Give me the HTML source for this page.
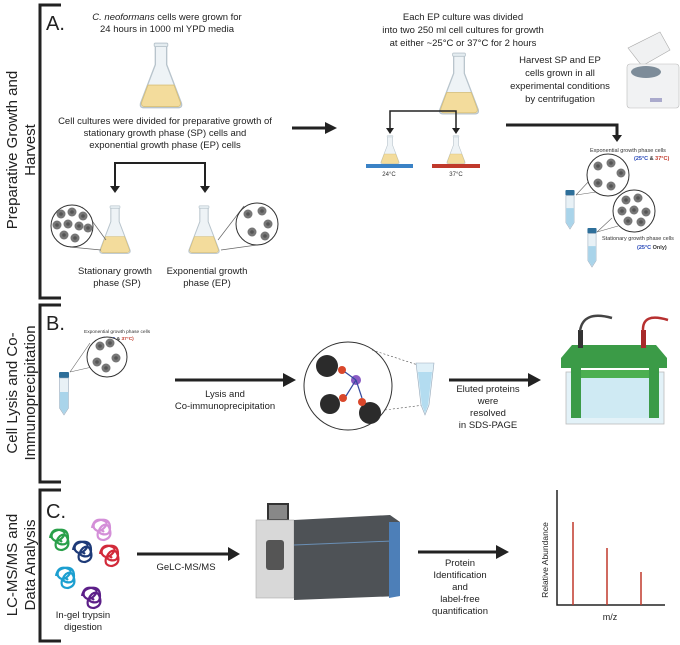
<!DOCTYPE html>
<html><head><meta charset="utf-8"><style>
body{margin:0;background:#fff}
svg{display:block;font-family:"Liberation Sans",sans-serif}
</style></head><body>
<svg width="680" height="645" viewBox="0 0 680 645" xmlns="http://www.w3.org/2000/svg">
<defs>
<symbol id="flask" viewBox="0 0 40 60">
<path d="M15 2 H25 V20 L38 54 Q39 58 35 58 H5 Q1 58 2 54 L15 20 Z" fill="#eef3f6" stroke="#b8c4cc" stroke-width="1.2"/>
<path d="M8.5 38 H31.5 L37 53 Q38 57 34 57 H6 Q2 57 3 53 Z" fill="#f3dc9c" stroke="#d8c07a" stroke-width="0.8"/>
<rect x="14" y="1" width="12" height="3" rx="1" fill="#e4ecf0" stroke="#b8c4cc" stroke-width="0.8"/>
</symbol>
<symbol id="tube" viewBox="0 0 12 44">
<rect x="1" y="0" width="10" height="6" rx="1" fill="#2d6f9a"/>
<path d="M1.5 6 H10.5 V36 L6 43 L1.5 36 Z" fill="#e8f1f6" stroke="#9ab" stroke-width="0.6"/>
<path d="M1.8 20 H10.2 V36 L6 42 L1.8 36 Z" fill="#a9d4ea"/>
</symbol>
<g id="cell"><circle r="4.5" fill="#777"/><circle r="1.8" fill="#555"/></g>
<path id="prot" d="M0 8 q2 -10 10 -8 q8 2 2 8 q-6 6 -10 0 q-2 -6 6 -8 q10 -2 10 8 q0 8 -8 6 q-6 -2 0 -8 q6 -4 8 4 q2 8 -6 10 q-8 0 -6 -8 q2 -4 6 0" fill="none" stroke-width="2.2"/>
</defs>

<g stroke="#222" stroke-width="3" fill="none">
<path d="M61 5 H40 V298 H61"/>
<path d="M61 305 H40 V482 H61"/>
<path d="M61 490 H40 V641 H61"/>
</g>
<g font-size="15" fill="#222" text-anchor="middle">
<text transform="translate(17,150) rotate(-90)">Preparative Growth and</text>
<text transform="translate(35,150) rotate(-90)">Harvest</text>
<text transform="translate(17,393) rotate(-90)">Cell Lysis and Co-</text>
<text transform="translate(35,393) rotate(-90)">Immunoprecipitation</text>
<text transform="translate(17,565) rotate(-90)">LC-MS/MS and</text>
<text transform="translate(35,565) rotate(-90)">Data Analysis</text>
</g>
<g font-size="20" fill="#222"><text x="46" y="30">A.</text><text x="46" y="330">B.</text><text x="46" y="518">C.</text></g>

<g font-size="9.5" fill="#222" text-anchor="middle">
<text x="167" y="20"><tspan font-style="italic">C. neoformans</tspan> cells were grown for</text>
<text x="167" y="32">24 hours in 1000 ml YPD media</text>
<text x="165" y="124">Cell cultures were divided for preparative growth of</text>
<text x="165" y="136">stationary growth phase (SP) cells and</text>
<text x="165" y="148">exponential growth phase (EP) cells</text>
<text x="115" y="274">Stationary growth</text>
<text x="117" y="286">phase (SP)</text>
<text x="207" y="274">Exponential growth</text>
<text x="207" y="286">phase (EP)</text>
</g>
<use href="#flask" x="137" y="42" width="48" height="68"/>
<g stroke="#222" stroke-width="2" fill="none"><path d="M115 188 V163 H205 V188" /></g>
<path d="M110 186 H120 L115 193Z M200 186 H210 L205 193Z" fill="#222"/>
<use href="#flask" x="98" y="205" width="34" height="50"/>
<use href="#flask" x="187" y="205" width="34" height="50"/>
<g stroke="#666" stroke-width="0.7"><line x1="70" y1="247" x2="101" y2="250"/><line x1="82" y1="207" x2="106" y2="240"/><line x1="257" y1="245" x2="221" y2="250"/><line x1="244" y1="206" x2="218" y2="240"/></g>
<circle cx="72" cy="226" r="21" fill="#fff" stroke="#333" stroke-width="1"/>
<circle cx="257" cy="224" r="21" fill="#fff" stroke="#333" stroke-width="1"/>
<g><use href="#cell" x="61" y="214"/><use href="#cell" x="72" y="212"/><use href="#cell" x="83" y="216"/><use href="#cell" x="57" y="225"/><use href="#cell" x="68" y="224"/><use href="#cell" x="79" y="226"/><use href="#cell" x="88" y="228"/><use href="#cell" x="64" y="235"/><use href="#cell" x="75" y="238"/><use href="#cell" x="248" y="214"/><use href="#cell" x="262" y="211"/><use href="#cell" x="268" y="224"/><use href="#cell" x="252" y="232"/><use href="#cell" x="265" y="236"/></g>
<line x1="292" y1="128" x2="327" y2="128" stroke="#222" stroke-width="3"/><path d="M325 122 L337 128 L325 134Z" fill="#222"/>

<g font-size="9.5" fill="#222" text-anchor="middle">
<text x="463" y="20">Each EP culture was divided</text>
<text x="463" y="33">into two 250 ml cell cultures for growth</text>
<text x="463" y="46">at either ~25°C or 37°C for 2 hours</text>
<text x="560" y="63">Harvest SP and EP</text>
<text x="560" y="76">cells grown in all</text>
<text x="560" y="89">experimental conditions</text>
<text x="560" y="102">by centrifugation</text>
</g>
<use href="#flask" x="437" y="52" width="44" height="64"/>
<g stroke="#222" stroke-width="1.5" fill="none"><path d="M390 130 V111 H456 V130"/></g>
<path d="M386 128 H394 L390 134Z M452 128 H460 L456 134Z" fill="#222"/>
<use href="#flask" x="374" y="135" width="32" height="30"/>
<use href="#flask" x="440" y="135" width="32" height="30"/>
<rect x="366" y="164" width="47" height="4" fill="#3a82c6"/>
<rect x="432" y="164" width="48" height="4" fill="#c0392b"/>
<g font-size="6" fill="#333" text-anchor="middle"><text x="389" y="176">24°C</text><text x="456" y="176">37°C</text></g>
<g><path d="M628 48 L660 32 L670 50 L642 66Z" fill="#f0f1f2" stroke="#aaa" stroke-width="0.6"/>
<rect x="627" y="64" width="52" height="44" rx="3" fill="#f1f2f3" stroke="#bbb" stroke-width="0.6"/>
<ellipse cx="646" cy="72" rx="15" ry="6" fill="#7d8c99"/>
<rect x="650" y="98" width="12" height="4" fill="#aac"/></g>
<path d="M506 125 H617 V136" stroke="#222" stroke-width="3" fill="none"/><path d="M612 135 H622 L617 142Z" fill="#222"/>
<g font-size="5.5" fill="#333"><text x="590" y="152">Exponential growth phase cells</text>
<text x="634" y="160" font-weight="bold"><tspan fill="#2647b8">(25°C</tspan> &amp; <tspan fill="#c0392b">37°C)</tspan></text>
<text x="602" y="240">Stationary growth phase cells</text>
<text x="637" y="249" font-weight="bold"><tspan fill="#2647b8">(25°C</tspan> Only)</text></g>
<g stroke="#666" stroke-width="0.6"><line x1="576" y1="195" x2="590" y2="180"/><line x1="576" y1="195" x2="596" y2="192"/><line x1="597" y1="232" x2="612" y2="218"/><line x1="597" y1="232" x2="618" y2="226"/></g>
<circle cx="608" cy="175" r="21" fill="#fff" stroke="#333"/>
<circle cx="634" cy="211" r="21" fill="#fff" stroke="#333"/>
<g><use href="#cell" x="598" y="166"/><use href="#cell" x="611" y="163"/><use href="#cell" x="621" y="173"/><use href="#cell" x="598" y="183"/><use href="#cell" x="611" y="186"/>
<use href="#cell" x="626" y="200"/><use href="#cell" x="638" y="198"/><use href="#cell" x="622" y="211"/><use href="#cell" x="634" y="210"/><use href="#cell" x="646" y="212"/><use href="#cell" x="628" y="221"/><use href="#cell" x="641" y="222"/></g>
<use href="#tube" x="563" y="190" width="14" height="40"/>
<use href="#tube" x="585" y="228" width="14" height="40"/>

<g font-size="4.8" fill="#333"><text x="84" y="333">Exponential growth phase cells</text><text x="103" y="340" font-weight="bold"><tspan fill="#2647b8">(25°C</tspan> &amp; <tspan fill="#c0392b">37°C)</tspan></text></g>
<g stroke="#666" stroke-width="0.6"><line x1="70" y1="372" x2="90" y2="343"/><line x1="70" y1="372" x2="92" y2="367"/></g>
<circle cx="107" cy="357" r="20" fill="#fff" stroke="#333"/>
<g><use href="#cell" x="100" y="346"/><use href="#cell" x="110" y="343"/><use href="#cell" x="97" y="362"/><use href="#cell" x="116" y="358"/><use href="#cell" x="106" y="368"/></g>
<use href="#tube" x="57" y="372" width="14" height="44"/>
<line x1="175" y1="380" x2="285" y2="380" stroke="#222" stroke-width="3"/><path d="M283 373 L296 380 L283 387Z" fill="#222"/>
<g font-size="9.5" fill="#222" text-anchor="middle"><text x="225" y="397">Lysis and</text><text x="225" y="409">Co-immunoprecipitation</text>
<text x="488" y="392">Eluted proteins</text><text x="488" y="404">were</text><text x="488" y="416">resolved</text><text x="488" y="428">in SDS-PAGE</text></g>
<circle cx="348" cy="386" r="44" fill="#fff" stroke="#333" stroke-width="1"/>
<g fill="#2b2b2b"><circle cx="327" cy="366" r="11"/><circle cx="330" cy="404" r="10"/><circle cx="370" cy="413" r="11"/></g>
<g fill="#d9472b"><circle cx="342" cy="370" r="4"/><circle cx="343" cy="398" r="4"/><circle cx="362" cy="402" r="4"/></g>
<circle cx="356" cy="380" r="5" fill="#8a5bc4"/>
<g stroke="#334a9e" stroke-width="1.2"><line x1="356" y1="380" x2="345" y2="372"/><line x1="356" y1="380" x2="346" y2="396"/><line x1="356" y1="380" x2="362" y2="398"/></g>
<g stroke="#555" stroke-width="0.6" stroke-dasharray="2,2"><line x1="372" y1="350" x2="421" y2="366"/><line x1="385" y1="410" x2="424" y2="405"/></g>
<path d="M416 363 H434 L429 405 L425 415 L421 405 Z" fill="#dff0f8" stroke="#9ab" stroke-width="0.6"/><path d="M418 372 H432 L428 405 L425 413 L422 405Z" fill="#b3dcf0"/>
<line x1="449" y1="380" x2="530" y2="380" stroke="#222" stroke-width="3"/><path d="M528 373 L541 380 L528 387Z" fill="#222"/>
<rect x="566" y="372" width="98" height="52" fill="#e3f2f8" stroke="#bbb" stroke-width="0.8"/>
<path d="M561 358 L572 345 H656 L667 358 V368 H561Z" fill="#3b9b47"/>
<rect x="571" y="368" width="10" height="50" fill="#3b9b47"/><rect x="649" y="368" width="10" height="50" fill="#3b9b47"/>
<rect x="581" y="370" width="68" height="8" fill="#4caf50"/>
<rect x="581" y="378" width="68" height="40" fill="#cfeaf3"/>
<rect x="578" y="330" width="5" height="18" fill="#333"/><rect x="641" y="330" width="5" height="18" fill="#a82a2a"/>
<path d="M580 331 Q583 310 612 318" stroke="#444" stroke-width="2.5" fill="none"/>
<path d="M643 331 Q642 312 668 320" stroke="#b73030" stroke-width="2.5" fill="none"/>

<g>
<use href="#prot" stroke="#2aa04a" transform="translate(50,530)"/>
<use href="#prot" stroke="#1e3a78" transform="translate(73,542)"/>
<use href="#prot" stroke="#d48fd8" transform="translate(92,520)"/>
<use href="#prot" stroke="#d22a3a" transform="translate(100,546)"/>
<use href="#prot" stroke="#1c9fd0" transform="translate(56,568)"/>
<use href="#prot" stroke="#5c1f88" transform="translate(82,588)"/>
</g>
<g font-size="9.5" fill="#222" text-anchor="middle"><text x="83" y="618">In-gel trypsin</text><text x="83" y="630">digestion</text>
<text x="186" y="570">GeLC-MS/MS</text>
<text x="460" y="566">Protein</text><text x="460" y="578">Identification</text><text x="460" y="590">and</text><text x="460" y="602">label-free</text><text x="460" y="614">quantification</text></g>
<line x1="137" y1="554" x2="230" y2="554" stroke="#222" stroke-width="3"/><path d="M228 547 L240 554 L228 561Z" fill="#222"/>
<line x1="418" y1="552" x2="498" y2="552" stroke="#222" stroke-width="3"/><path d="M496 545 L509 552 L496 559Z" fill="#222"/>
<rect x="267" y="503" width="22" height="18" fill="#333"/><rect x="269" y="505" width="18" height="14" fill="#888"/>
<rect x="256" y="520" width="38" height="78" fill="#d8d8d8" stroke="#aaa" stroke-width="0.6"/>
<rect x="266" y="540" width="18" height="30" rx="3" fill="#555"/>
<path d="M294 520 L390 515 L400 522 V596 L294 600Z" fill="#4e5256"/>
<line x1="294" y1="545" x2="392" y2="541" stroke="#6a8fb5" stroke-width="1"/>
<path d="M389 522 L400 522 V596 L389 598Z" fill="#4d7fb8"/>
<path d="M557 490 V605 H665" stroke="#222" stroke-width="1.5" fill="none"/>
<g stroke="#c0392b" stroke-width="1.5"><line x1="573" y1="522" x2="573" y2="605"/><line x1="607" y1="548" x2="607" y2="605"/><line x1="641" y1="572" x2="641" y2="605"/></g>
<text transform="translate(548,560) rotate(-90)" font-size="8.5" text-anchor="middle" fill="#222">Relative Abundance</text>
<text x="610" y="620" font-size="9" text-anchor="middle" fill="#222">m/z</text>
</svg>
</body></html>
